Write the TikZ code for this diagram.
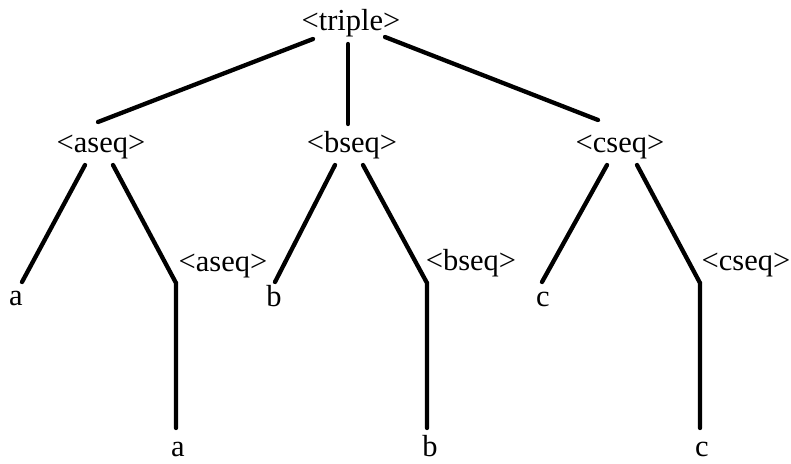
\documentclass[tikz,border=0pt]{standalone}
\usepackage{fontspec}
\setmainfont{Liberation Serif}
\begin{document}
\begin{tikzpicture}[x=1pt,y=-1pt,
  lbl/.style={anchor=base,inner sep=0pt,font=\fontsize{30.5}{36}\selectfont},
  edge/.style={line width=4.3pt,line cap=round,line join=miter}]
\useasboundingbox (0,0) rectangle (791,463);
% nodes
\node[lbl] (triple) at (351,30) {<triple>};
\node[lbl] (aseq) at (101,152) {<aseq>};
\node[lbl] (bseq) at (352,152) {<bseq>};
\node[lbl] (cseq) at (620,152) {<cseq>};
\node[lbl] (a1) at (16,305) {a};
\node[lbl] (b1) at (274,306) {b};
\node[lbl] (c1) at (543,306) {c};
\node[lbl] (aseq2) at (223,271) {<aseq>};
\node[lbl] (bseq2) at (471,270) {<bseq>};
\node[lbl] (cseq2) at (746,270) {<cseq>};
\node[lbl] (a2) at (178,456) {a};
\node[lbl] (b2) at (430,456) {b};
\node[lbl] (c2) at (702,456) {c};
% connector end points
\coordinate (tA) at (313,39);  \coordinate (aT) at (98,122);
\coordinate (tB) at (348,44);  \coordinate (bT) at (348,124);
\coordinate (tC) at (385,37);  \coordinate (cT) at (598,120);
\coordinate (aL) at (85,165);  \coordinate (a1T) at (22,282);
\coordinate (aR) at (113,165); \coordinate (aK) at (176,283); \coordinate (a2T) at (176,428);
\coordinate (bL) at (335,165); \coordinate (b1T) at (275,282);
\coordinate (bR) at (363,165); \coordinate (bK) at (427,283); \coordinate (b2T) at (427,428);
\coordinate (cL) at (607,165); \coordinate (c1T) at (542,282);
\coordinate (cR) at (637,165); \coordinate (cK) at (700,283); \coordinate (c2T) at (700,428);
% connectors
\draw[edge] (tA) -- (aT);
\draw[edge] (tB) -- (bT);
\draw[edge] (tC) -- (cT);
\draw[edge] (aL) -- (a1T);
\draw[edge] (aR) -- (aK) -- (a2T);
\draw[edge] (bL) -- (b1T);
\draw[edge] (bR) -- (bK) -- (b2T);
\draw[edge] (cL) -- (c1T);
\draw[edge] (cR) -- (cK) -- (c2T);
\end{tikzpicture}
\end{document}
